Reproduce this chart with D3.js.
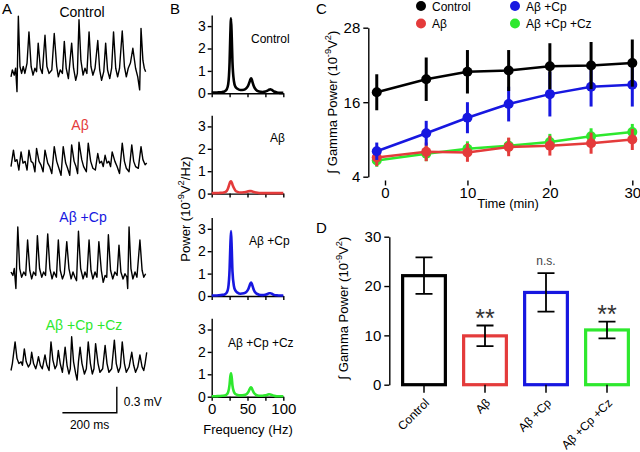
<!DOCTYPE html>
<html>
<head>
<meta charset="utf-8">
<script src="https://cdn.jsdelivr.net/npm/d3@7"></script>
<style>
  body { margin: 0; background: #fff; }
  svg { font-family: "Liberation Sans", Arial, sans-serif; }
</style>
</head>
<body>
<svg id="fig" width="640" height="452"></svg>
<script>
// ---- data ----
const groups = ["Control", "Aβ", "Aβ +Cp", "Aβ +Cp +Cz"];
const groupColours = ["#000000", "#e43b3b", "#1717e0", "#2ee82e"];

// panel A: field potential traces, [time ms, mV]
const traceControl = [[0,-0.06],[5,0.02],[12,-0.04],[17,0.04],[22,-0.23],[27,0.64],[33,0.06],[39,-0.02],[45,0.06],[51,-0.02],[59,0.1],[66,0.46],[74,0.06],[81,-0.04],[88,0.04],[94,0],[100,0.33],[108,0.04],[115,-0.02],[125,0.42],[132,0.06],[140,-0.02],[150,0.02],[159,0.44],[168,0.06],[174,-0.06],[181,0.02],[189,-0.02],[196,0.35],[203,0.04],[211,-0.08],[223,0.33],[230,0.04],[238,-0.1],[244,-0.02],[250,0.6],[257,0.13],[265,-0.04],[272,0.04],[279,-0.02],[287,0.46],[294,0.06],[301,-0.04],[309,0.04],[319,0.36],[326,0.02],[333,-0.1],[341,0],[348,0.33],[355,0.02],[363,-0.08],[370,0.04],[377,0.46],[385,0.04],[392,-0.06],[399,0.04],[409,0.47],[417,0.06],[424,-0.06],[431,0.04],[439,0.1],[448,0.27],[458,0.04],[466,-0.06],[473,-0.21],[478,0.5],[485,0.13],[490,0.04],[495,0]];
const traceAb = [[0,0.02],[9,0.21],[15,0.08],[22,0.1],[29,-0.02],[37,0.19],[44,0.06],[52,0.08],[59,-0.02],[66,0.21],[74,0.08],[81,0.06],[88,-0.04],[94,0.23],[103,0.08],[110,0.04],[118,-0.04],[125,0.21],[135,0.06],[142,0.02],[150,-0.06],[159,0.25],[168,0.08],[176,0],[184,-0.08],[192,0.25],[201,0.06],[208,0],[216,-0.08],[223,0.27],[232,0.08],[239,0.02],[245,-0.06],[250,0.3],[260,0.1],[267,0.02],[277,-0.04],[284,0.29],[293,0.08],[301,0],[310,-0.02],[319,0.17],[326,0.06],[333,0.08],[339,0.02],[346,0.15],[353,0.06],[360,0.08],[366,0.02],[372,0.19],[382,0.08],[390,0.02],[399,-0.06],[409,0.29],[417,0.08],[424,0],[434,-0.04],[444,0.27],[451,0.08],[458,0.02],[468,0],[478,0.25],[485,0.1],[493,0.04],[499,0.06]];
const traceAbCp = [[0,0],[7,-0.04],[12,0.04],[18,-0.19],[25,0.52],[32,0.04],[39,-0.06],[47,0],[54,-0.04],[61,0.37],[69,0.02],[76,-0.08],[83,0],[91,-0.04],[97,0.42],[105,0.04],[113,-0.06],[120,0],[127,-0.04],[135,0.44],[143,0.04],[151,-0.08],[158,0],[167,-0.06],[174,0.37],[181,0.02],[189,-0.08],[196,-0.02],[205,0.35],[213,0.04],[221,-0.08],[228,0],[235,-0.06],[241,-0.1],[248,0.47],[256,0.04],[265,-0.08],[272,0],[279,-0.06],[287,0.37],[294,0.02],[301,-0.08],[309,0],[316,-0.06],[323,0.35],[332,0.02],[339,-0.12],[346,-0.04],[352,-0.06],[358,0.43],[366,0.02],[374,-0.08],[382,0],[390,-0.04],[397,0.31],[404,0],[412,-0.08],[419,-0.02],[426,-0.06],[429,-0.19],[434,0.52],[441,0.04],[448,-0.08],[456,0],[463,-0.06],[474,0.37],[482,0.02],[488,-0.06],[495,-0.02]];
const traceAbCpCz = [[0,-0.06],[5,0.02],[15,0.27],[22,0.08],[29,0.02],[37,0.04],[42,0],[49,0.19],[56,0.04],[64,-0.02],[71,0.02],[76,0.15],[83,0.02],[91,-0.04],[96,0.02],[101,0.1],[108,0],[115,-0.04],[120,0.04],[125,0.12],[132,0],[140,-0.06],[147,0.27],[154,0.06],[162,-0.04],[168,0],[174,0.17],[181,0.02],[189,-0.08],[199,0.21],[206,0],[213,-0.1],[218,-0.04],[223,0.33],[230,0.04],[238,-0.1],[243,-0.17],[248,0.04],[254,0.21],[261,0.02],[270,-0.1],[277,-0.04],[284,0.27],[292,0.02],[299,-0.1],[305,-0.04],[311,0.25],[320,0.02],[327,-0.08],[337,-0.04],[346,0.23],[353,0.02],[360,-0.08],[370,-0.04],[380,0.29],[387,0.02],[395,-0.08],[402,-0.02],[409,0.27],[417,0.02],[424,-0.08],[434,-0.02],[444,0.15],[451,0],[458,-0.08],[466,-0.02],[474,0.12],[482,-0.02],[488,-0.06],[493,0.02],[499,0.15]];

// panel B: power spectra (10^-9 V^2/Hz)
const freqHz = [0,5,10,15,18,21,23,25,26,27,28,29,31,33,36,40,45,49,51,53,54,55,56,57,59,62,66,71,75,78,80,82,84,87,91,95,100];
const specControl = [0.03,0.03,0.04,0.06,0.09,0.18,0.4,1.4,2.6,3.35,2.5,1.4,0.55,0.3,0.2,0.15,0.16,0.25,0.35,0.52,0.62,0.67,0.62,0.5,0.3,0.15,0.08,0.06,0.08,0.12,0.16,0.18,0.15,0.08,0.04,0.02,0.02];
const specAb = [0.02,0.02,0.03,0.04,0.06,0.12,0.25,0.45,0.53,0.55,0.5,0.4,0.25,0.14,0.08,0.05,0.06,0.08,0.1,0.11,0.11,0.11,0.1,0.09,0.07,0.05,0.03,0.02,0.02,0.02,0.02,0.02,0.02,0.02,0.02,0.02,0.02];
const specAbCp = [0.02,0.02,0.03,0.05,0.07,0.15,0.35,1.2,2.2,2.9,2.1,1.1,0.45,0.25,0.15,0.1,0.12,0.2,0.3,0.47,0.56,0.6,0.55,0.45,0.26,0.12,0.06,0.04,0.06,0.09,0.12,0.12,0.1,0.05,0.03,0.02,0.02];
const specAbCpCz = [0.02,0.02,0.03,0.04,0.05,0.1,0.2,0.55,0.9,1.05,0.85,0.5,0.22,0.12,0.08,0.06,0.07,0.12,0.2,0.34,0.4,0.42,0.38,0.3,0.17,0.08,0.04,0.04,0.06,0.09,0.11,0.1,0.08,0.04,0.02,0.02,0.02];

// panel C: integrated gamma power over time
const timeMin = [-1, 5, 10, 15, 20, 25, 30];
const gammaControl = [17.6, 19.7, 20.9, 21.1, 21.8, 21.9, 22.3];
const semControl = [2.9, 3.5, 3.5, 3.3, 3.7, 3.8, 3.8];
const gammaAb = [7.1, 8.0, 7.9, 8.8, 9.0, 9.4, 10.0];
const semAb = [1.4, 1.5, 1.5, 1.5, 1.6, 1.7, 1.7];
const gammaAbCp = [8.1, 11.0, 13.5, 15.7, 17.3, 18.5, 18.8];
const semAbCp = [1.4, 2.0, 2.5, 2.8, 3.6, 3.2, 3.5];
const gammaAbCpCz = [6.6, 7.7, 8.5, 9.0, 9.6, 10.5, 11.2];
const semAbCpCz = [1.0, 1.2, 1.2, 1.2, 1.3, 1.3, 1.3];

// panel D: summary bars
const barMeans = [22.1, 9.9, 18.7, 11.1];
const barSem = [3.7, 2.1, 3.9, 1.7];
const sigMarks = ["", "**", "n.s.", "**"];

// ---- drawing ----
const svg = d3.select("#fig");

function supText(g, parts, size) {
  // parts: [text, isSuperscript]
  let up = false;
  parts.forEach(([t, sup]) => {
    const ts = g.append("tspan").text(t);
    if (sup && !up) { ts.attr("dy", -size * 0.4).attr("font-size", size * 0.72); up = true; }
    else if (sup) { ts.attr("font-size", size * 0.72); }
    else if (up) { ts.attr("dy", size * 0.4); up = false; }
  });
}

function yLabel(cx, cy, parts, size) {
  const t = svg.append("text")
    .attr("transform", `translate(${cx},${cy}) rotate(-90)`)
    .attr("text-anchor", "middle")
    .attr("y", size * 0.36)
    .attr("font-size", size);
  supText(t, parts, size);
}

function styleAxis(g, fs) {
  g.selectAll("path, line").attr("stroke", "#000").attr("stroke-width", 1.4);
  g.selectAll("text").attr("font-size", fs).attr("fill", "#000")
    .attr("font-family", '"Liberation Sans", Arial, sans-serif');
}

// panel letters
[["A", 2, 14], ["B", 170, 14], ["C", 316, 14], ["D", 316, 233]].forEach(([l, x, y]) =>
  svg.append("text").attr("x", x).attr("y", y).attr("font-size", 15).text(l));

// ---- A ----
const traces = [traceControl, traceAb, traceAbCp, traceAbCpCz];
const traceBase = [71.7, 168.3, 272, 365.3];
const traceLabelY = [17, 130, 222, 330];
const traceLabelX = [82, 80, 83, 84];
const tx = d3.scaleLinear().domain([0, 200]).range([11, 65.4]);

traces.forEach((tr, i) => {
  const ty = d3.scaleLinear().domain([0, 0.3]).range([traceBase[i], traceBase[i] - 26]);
  svg.append("path")
    .attr("d", d3.line().x(d => tx(d[0])).y(d => ty(d[1]))(tr))
    .attr("fill", "none").attr("stroke", "#000").attr("stroke-width", 1.4)
    .attr("stroke-linejoin", "round");
  svg.append("text").attr("x", traceLabelX[i]).attr("y", traceLabelY[i])
    .attr("text-anchor", "middle").attr("font-size", 14)
    .attr("fill", groupColours[i]).text(groups[i]);
});

// scale bar: 200 ms, 0.3 mV
const sbY = d3.scaleLinear().domain([0, 0.3]).range([412.7, 386.7]);
svg.append("path")
  .attr("d", `M${tx(189)},${sbY(0)}H${tx(389)}V${sbY(0.3)}`)
  .attr("fill", "none").attr("stroke", "#000").attr("stroke-width", 1.4);
svg.append("text").attr("x", tx(389) + 7).attr("y", 406).attr("font-size", 12).text("0.3 mV");
svg.append("text").attr("x", tx(289)).attr("y", 429).attr("text-anchor", "middle")
  .attr("font-size", 12).text("200 ms");

// ---- B ----
const spectra = [specControl, specAb, specAbCp, specAbCpCz];
const specBase = [93.3, 193.6, 296, 396.7];
const specLabelPos = [[251, 43], [270, 142], [249, 245], [228, 347]];
const fx = d3.scaleLinear().domain([0, 100]).range([211.7, 283.3]);

spectra.forEach((vals, i) => {
  const fy = d3.scaleLinear().domain([0, 3.5]).range([specBase[i], specBase[i] - 3.5 * 22.4]);
  const gy = svg.append("g").attr("transform", `translate(${fx(0)},0)`)
    .call(d3.axisLeft(fy).tickValues([0, 1, 2, 3]).tickFormat(d3.format("d"))
      .tickSize(4).tickSizeOuter(0).tickPadding(2));
  styleAxis(gy, 14);
  const gx = svg.append("g").attr("transform", `translate(0,${specBase[i]})`)
    .call(d3.axisBottom(fx).tickValues([0, 25, 50, 75, 100]).tickSize(4).tickSizeOuter(0)
      .tickFormat(d => (i === 3 && d % 50 === 0) ? d : ""));
  styleAxis(gx, 15);
  svg.append("path")
    .datum(freqHz.map((f, k) => [f, vals[k]]))
    .attr("d", d3.line().curve(d3.curveMonotoneX).x(d => fx(d[0])).y(d => fy(d[1])))
    .attr("fill", "none").attr("stroke", groupColours[i]).attr("stroke-width", 2.6)
    .attr("stroke-linejoin", "round");
  svg.append("text").attr("x", specLabelPos[i][0]).attr("y", specLabelPos[i][1])
    .attr("font-size", 12).text(groups[i]);
});
svg.append("text").attr("x", 248).attr("y", 434).attr("text-anchor", "middle")
  .attr("font-size", 13).text("Frequency (Hz)");
yLabel(185, 209, [["Power (10", 0], ["-9", 1], ["V", 0], ["2", 1], ["/Hz)", 0]], 13);

// ---- C ----
const cx = d3.scaleLinear().domain([0, 30]).range([385, 632.3]);
const cy = d3.scaleLinear().domain([4, 28]).range([176.7, 27.7]);
const gcy = svg.append("g").attr("transform", `translate(368.3,0)`)
  .call(d3.axisLeft(cy).tickValues([4, 16, 28]).tickSize(5).tickSizeOuter(0).tickPadding(3));
styleAxis(gcy, 15);
const gcx = svg.append("g").attr("transform", `translate(0,180.5)`)
  .call(d3.axisBottom(cx).tickValues([0, 10, 20, 30]).tickSize(5).tickPadding(2));
styleAxis(gcx, 15);
gcx.select(".domain").remove();
svg.append("text").attr("x", 508).attr("y", 208).attr("text-anchor", "middle")
  .attr("font-size", 13).text("Time (min)");
yLabel(332, 102, [["∫ Gamma Power (10", 0], ["-9", 1], ["V", 0], ["2", 1], [")", 0]], 13);

const cSeries = [
  { m: gammaAbCpCz, e: semAbCpCz, c: groupColours[3] },
  { m: gammaAb, e: semAb, c: groupColours[1] },
  { m: gammaAbCp, e: semAbCp, c: groupColours[2] },
  { m: gammaControl, e: semControl, c: groupColours[0] }
];
cSeries.forEach(s => {
  const pts = timeMin.map((t, k) => ({ t, m: s.m[k], e: s.e[k] }));
  const g = svg.append("g");
  g.selectAll("line.err").data(pts).join("line")
    .attr("x1", d => cx(d.t)).attr("x2", d => cx(d.t))
    .attr("y1", d => cy(d.m - d.e)).attr("y2", d => cy(d.m + d.e))
    .attr("stroke", s.c).attr("stroke-width", 3);
  g.append("path").datum(pts)
    .attr("d", d3.line().x(d => cx(d.t)).y(d => cy(d.m)))
    .attr("fill", "none").attr("stroke", s.c).attr("stroke-width", 2.5);
  g.selectAll("circle").data(pts).join("circle")
    .attr("cx", d => cx(d.t)).attr("cy", d => cy(d.m)).attr("r", 5).attr("fill", s.c);
});

// legend
const legendPos = [[421, 6], [421, 23.5], [515, 6], [515, 23.5]];
groups.forEach((name, i) => {
  svg.append("circle").attr("cx", legendPos[i][0]).attr("cy", legendPos[i][1])
    .attr("r", 5).attr("fill", groupColours[i]);
  svg.append("text").attr("x", legendPos[i][0] + 11).attr("y", legendPos[i][1] + 4.5)
    .attr("font-size", 12).text(name);
});

// ---- D ----
const dy = d3.scaleLinear().domain([0, 30]).range([384.7, 236.7]);
const dx = d3.scaleBand().domain(groups).range([393.5, 637.5]).paddingInner(0.25).paddingOuter(0.125);
const gdy = svg.append("g").attr("transform", `translate(389.3,0)`)
  .call(d3.axisLeft(dy).tickValues([0, 10, 20, 30]).tickSize(5).tickSizeOuter(0).tickPadding(3));
styleAxis(gdy, 15);
yLabel(343, 308, [["∫ Gamma Power (10", 0], ["-9", 1], ["V", 0], ["2", 1], [")", 0]], 13);

const bars = groups.map((g, i) => ({ g, m: barMeans[i], e: barSem[i], c: groupColours[i], s: sigMarks[i] }));
const bw = dx.bandwidth();
svg.selectAll("rect.bar").data(bars).join("rect")
  .attr("x", d => dx(d.g) + 1.5).attr("width", bw - 3)
  .attr("y", d => dy(d.m)).attr("height", d => dy(0) - dy(d.m))
  .attr("fill", "#fff").attr("stroke", d => d.c).attr("stroke-width", 3.2);
bars.forEach(d => {
  const x = dx(d.g) + bw / 2;
  const y1 = dy(d.m + d.e), y0 = dy(d.m - d.e);
  svg.append("path")
    .attr("d", `M${x},${y0}V${y1}M${x - 8.5},${y1}H${x + 8.5}M${x - 8.5},${y0}H${x + 8.5}`)
    .attr("stroke", "#000").attr("stroke-width", 1.8).attr("fill", "none");
  svg.append("line").attr("x1", x).attr("x2", x).attr("y1", dy(0)).attr("y2", dy(0) + 8)
    .attr("stroke", "#000").attr("stroke-width", 1.5);
  svg.append("text")
    .attr("transform", `translate(${x + 6},${dy(0) + 19}) rotate(-45)`)
    .attr("text-anchor", "end").attr("font-size", 12).text(d.g);
  if (d.s === "**") {
    svg.append("text").attr("x", x).attr("y", y1 + 1).attr("text-anchor", "middle")
      .attr("font-size", 25).attr("fill", "#333").text(d.s);
  } else if (d.s) {
    svg.append("text").attr("x", x).attr("y", y1 - 8).attr("text-anchor", "middle")
      .attr("font-size", 12).attr("fill", "#444").text(d.s);
  }
});
</script>
</body>
</html>
